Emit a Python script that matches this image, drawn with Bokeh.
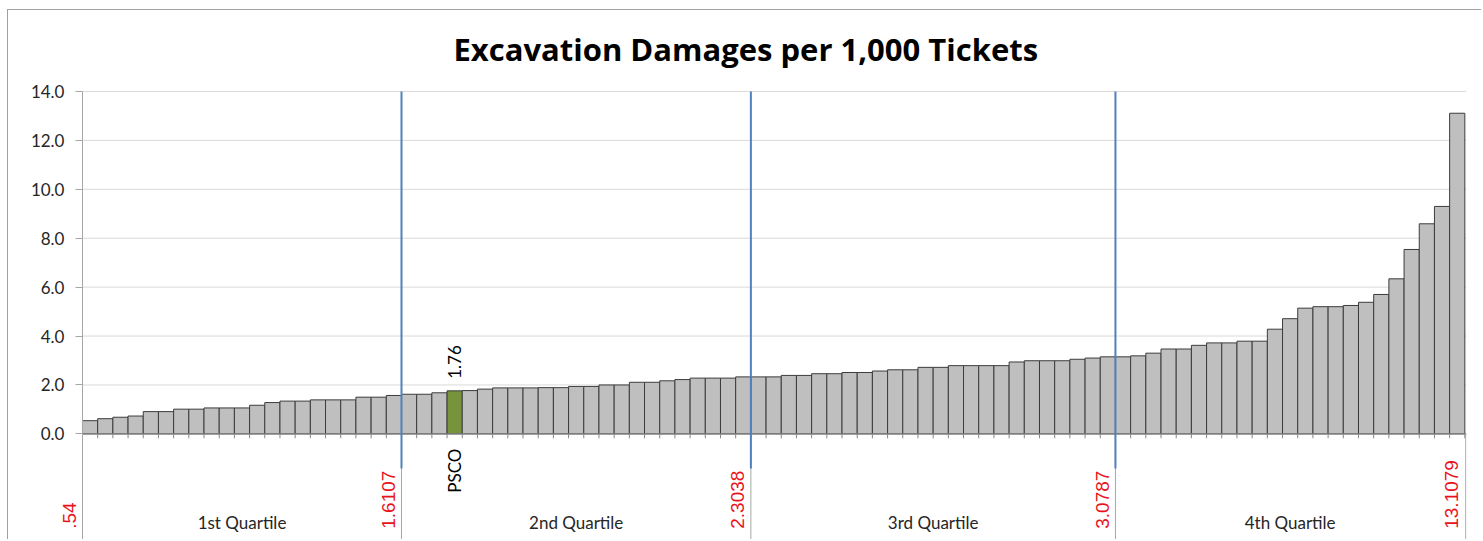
import math
from bokeh.plotting import figure
from bokeh.models import Range1d, FixedTicker, NumeralTickFormatter, ColumnDataSource
from bokeh.core.properties import value
from bokeh.embed import file_html
from bokeh.resources import INLINE

# ---------------- data ----------------
title_text = "Excavation Damages per 1,000 Tickets"
values = [
    0.54, 0.62, 0.68, 0.73, 0.91, 0.91, 1.01, 1.01, 1.06, 1.06,
    1.06, 1.17, 1.28, 1.34, 1.34, 1.39, 1.39, 1.39, 1.50, 1.50,
    1.57, 1.62, 1.62, 1.68, 1.76, 1.77, 1.83, 1.88, 1.88, 1.88,
    1.89, 1.89, 1.94, 1.94, 2.00, 2.00, 2.11, 2.11, 2.17, 2.22,
    2.28, 2.28, 2.28, 2.33, 2.33, 2.33, 2.39, 2.39, 2.46, 2.46,
    2.51, 2.51, 2.57, 2.62, 2.62, 2.72, 2.72, 2.79, 2.79, 2.79,
    2.79, 2.94, 2.99, 2.99, 2.99, 3.05, 3.10, 3.15, 3.15, 3.19,
    3.30, 3.47, 3.47, 3.62, 3.72, 3.72, 3.79, 3.79, 4.28, 4.71,
    5.14, 5.20, 5.20, 5.25, 5.38, 5.70, 6.34, 7.54, 8.59, 9.30,
    13.11,
]
highlight_index = 25          # 1-based position of PSCO
highlight_name = "PSCO"
highlight_label = "1.76"
group_counts = [21, 23, 24, 23]   # bars per quartile group
group_names = ["1st Quartile", "2nd Quartile", "3rd Quartile", "4th Quartile"]
boundary_labels = [".54", "1.6107", "2.3038", "3.0787", "13.1079"]
y_ticks = [0, 2, 4, 6, 8, 10, 12, 14]

# ---------------- derived ----------------
n = len(values)
xs = list(range(1, n + 1))
colors = ["#77933C" if i == highlight_index else "#BFBFBF" for i in xs]
edges = [0.5]
for c in group_counts:
    edges.append(edges[-1] + c)

Y_TOP = y_ticks[-1]
Y_MIN, Y_MAX = -4.36, Y_TOP + 0.49
X_MIN, X_MAX = -3.91, n + 0.61

p = figure(width=1474, height=530,
           x_range=Range1d(X_MIN, X_MAX), y_range=Range1d(Y_MIN, Y_MAX),
           x_axis_type=None, toolbar_location=None, output_backend="svg",
           min_border_left=7, min_border_right=16, min_border_top=69,
           min_border_bottom=0)
p.styles = {"margin-left": "7px", "margin-top": "9px",
            "border-top": "1px solid #a0a0a0", "border-left": "1px solid #a0a0a0"}
p.outline_line_color = None
p.background_fill_color = "white"
p.border_fill_color = "white"

p.title.text = title_text
p.title.align = "left"
p.title.offset = 438
p.title.standoff = 20
p.title.text_font = "Open Sans"
p.title.text_font_style = "bold"
p.title.text_font_size = "31px"
p.title.text_color = "#000000"

# y axis, fixed at the left edge of the first category
p.yaxis.fixed_location = 0.5
p.yaxis.bounds = (Y_MIN, Y_TOP)
p.yaxis.ticker = FixedTicker(ticks=y_ticks)
p.yaxis.formatter = NumeralTickFormatter(format="0.0")
p.yaxis.major_label_text_font = "Lato"
p.yaxis.major_label_text_font_size = "17px"
p.yaxis.major_label_text_color = "#262626"
p.yaxis.axis_line_color = "#a6a6a6"
p.yaxis.major_tick_line_color = "#a6a6a6"
p.yaxis.major_tick_out = 7
p.yaxis.major_tick_in = 0
p.yaxis.minor_tick_line_color = None
p.yaxis.major_label_standoff = 11

p.xgrid.visible = False
p.ygrid.visible = False

# horizontal gridlines from the axis to the right edge
p.segment(x0=[0.5] * len(y_ticks), y0=y_ticks, x1=[X_MAX] * len(y_ticks), y1=y_ticks,
          line_color="#d9d9d9", line_width=1)

# separators of the category groups below the axis
sep_x = edges[1:-1] + [X_MAX - 0.05]
p.segment(x0=sep_x, y0=[0] * len(sep_x), x1=sep_x, y1=[Y_MIN] * len(sep_x),
          line_color="#a6a6a6", line_width=1)

# bars
src = ColumnDataSource(dict(x=xs, top=values, color=colors))
p.vbar(x="x", top="top", width=1.0, bottom=0, source=src,
       fill_color="color", line_color="#3c3c3c", line_width=1)

# category axis line and tick marks between categories
p.segment(x0=[0.5], y0=[0], x1=[X_MAX], y1=[0], line_color="#868686", line_width=1)
tick_x = [i + 0.5 for i in range(0, n + 1)]
p.segment(x0=tick_x, y0=[0] * len(tick_x), x1=tick_x, y1=[-0.18] * len(tick_x),
          line_color="#868686", line_width=1)

# quartile lines (blue)
q_x = edges[1:-1]
p.segment(x0=q_x, y0=[-1.42] * len(q_x), x1=q_x, y1=[Y_TOP] * len(q_x),
          line_color="#4F81BD", line_width=2)

# value label above the highlighted bar
p.text(x=[highlight_index], y=[values[highlight_index - 1]], text=[highlight_label],
       angle=math.pi / 2, text_align="left", text_baseline="middle",
       y_offset=-12, text_font=value("Lato"), text_font_size="17px",
       text_color="#000000")

# highlighted name below axis
p.text(x=[highlight_index], y=[-0.6], text=[highlight_name],
       angle=math.pi / 2, text_align="right", text_baseline="middle",
       text_font=value("Lato"), text_font_size="17px", text_color="#000000")

# group names
centers = [(edges[i] + edges[i + 1]) / 2 for i in range(len(group_names))]
p.text(x=centers, y=[-3.62] * len(centers), text=group_names,
       text_align="center", text_baseline="middle",
       text_font=value("Lato"), text_font_size="17px", text_color="#262626")

# boundary values (red, rotated)
p.text(x=[e - 0.85 for e in edges], y=[-3.88] * len(edges), text=boundary_labels,
       angle=math.pi / 2, text_align="left", text_baseline="middle",
       text_font=value("Liberation Sans"), text_font_size="19px",
       text_color="#E8141C")

open("out.html", "w").write(file_html(p, INLINE))
